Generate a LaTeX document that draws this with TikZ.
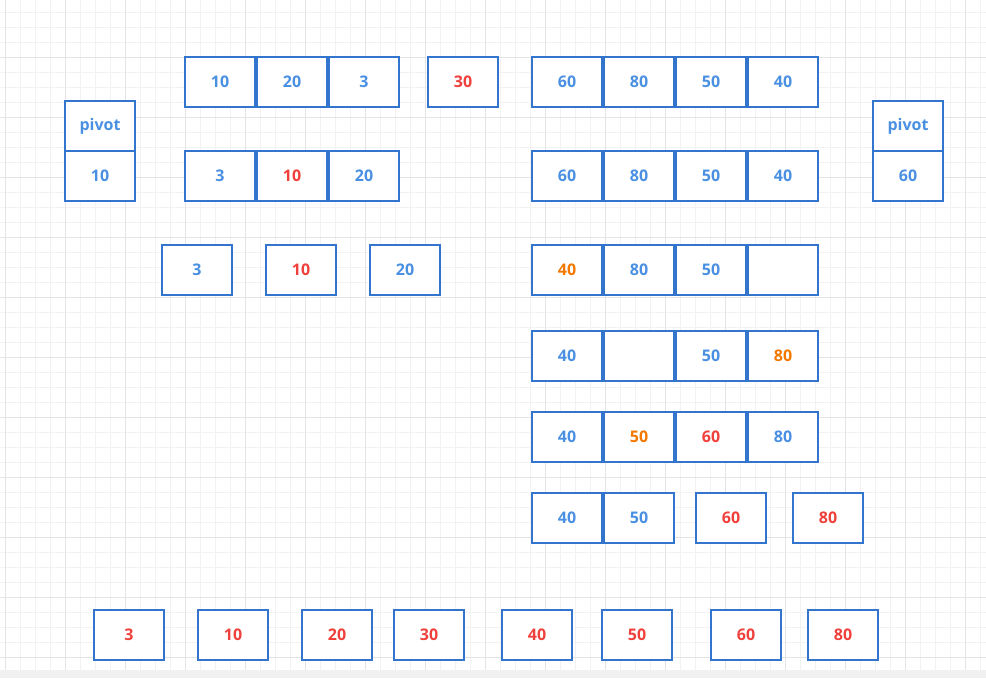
\documentclass[tikz,border=0pt]{standalone}
\usepackage{fontspec}
\setmainfont{Open Sans}
\usetikzlibrary{positioning}

\definecolor{boxblue}{RGB}{51,116,205}
\definecolor{numblue}{RGB}{74,144,226}
\definecolor{numred}{RGB}{240,64,60}
\definecolor{numorange}{RGB}{243,120,0}
\definecolor{gridlight}{RGB}{242,242,242}
\definecolor{griddark}{RGB}{228,228,228}
\definecolor{footgray}{RGB}{241,241,241}

\begin{document}
\begin{tikzpicture}[
        x=1pt, y=-1pt,
        node distance=0pt and 0pt,
        cell/.style={draw=boxblue, line width=2pt, fill=white,
                     minimum width=70pt, minimum height=50pt, inner sep=0pt,
                     font=\fontsize{16}{19}\selectfont\bfseries, text=numblue},
        hot/.style={cell, text=numred},
        moved/.style={cell, text=numorange},
        minorline/.style={draw=gridlight, line width=1pt},
        majorline/.style={draw=griddark, line width=1pt}
    ]
        \useasboundingbox (0,0) rectangle (986,678);
        \fill[footgray] (0,670) rectangle (986,678);

        % background grid
        \foreach \gx in {5.7,20.7,...,986} \draw[minorline] (\gx,0) -- (\gx,670);
        \foreach \gy in {12.3,27.3,...,670} \draw[minorline] (0,\gy) -- (986,\gy);
        \foreach \gx in {5.7,65.7,...,986} \draw[majorline] (\gx,0) -- (\gx,670);
        \foreach \gy in {57.3,117.3,...,670} \draw[majorline] (0,\gy) -- (986,\gy);

        % pivots
        \node[cell] (pivot-left) at (100,126) {pivot};
        \node[cell, below=-2pt of pivot-left] (pivot-left-val) {10};
        \node[cell] (pivot-right) at (908,126) {pivot};
        \node[cell, below=-2pt of pivot-right] (pivot-right-val) {60};

        % first split
        \node[cell] (row1-a) at (220,82) {10};
        \node[cell, right=of row1-a] (row1-b) {20};
        \node[cell, right=of row1-b] (row1-c) {3};
        \node[hot] (row1-mid) at (463,82) {30};
        \node[cell] (row1-d) at (567,82) {60};
        \node[cell, right=of row1-d] (row1-e) {80};
        \node[cell, right=of row1-e] (row1-f) {50};
        \node[cell, right=of row1-f] (row1-g) {40};

        % left part
        \node[cell] (row2-a) at (220,176) {3};
        \node[hot, right=of row2-a] (row2-b) {10};
        \node[cell, right=of row2-b] (row2-c) {20};
        \node[cell] (row3-a) at (197,270) {3};
        \node[hot, right=32pt of row3-a] (row3-b) {10};
        \node[cell, right=32pt of row3-b] (row3-c) {20};

        % right part
        \node[cell] (row2-d) at (567,176) {60};
        \node[cell, right=of row2-d] (row2-e) {80};
        \node[cell, right=of row2-e] (row2-f) {50};
        \node[cell, right=of row2-f] (row2-g) {40};

        \node[moved] (row3-d) at (567,270) {40};
        \node[cell, right=of row3-d] (row3-e) {80};
        \node[cell, right=of row3-e] (row3-f) {50};
        \node[cell, right=of row3-f] (row3-g) {};

        \node[cell] (row4-d) at (567,356) {40};
        \node[cell, right=of row4-d] (row4-e) {};
        \node[cell, right=of row4-e] (row4-f) {50};
        \node[moved, right=of row4-f] (row4-g) {80};

        \node[cell] (row5-d) at (567,437) {40};
        \node[moved, right=of row5-d] (row5-e) {50};
        \node[hot, right=of row5-e] (row5-f) {60};
        \node[cell, right=of row5-f] (row5-g) {80};

        \node[cell] (row6-d) at (567,518) {40};
        \node[cell, right=of row6-d] (row6-e) {50};
        \node[hot, right=20pt of row6-e] (row6-f) {60};
        \node[hot, right=25pt of row6-f] (row6-g) {80};

        % sorted result
        \foreach \px/\val in {129/3, 233/10, 337/20, 429/30, 537/40, 637/50, 746/60, 843/80}
            \node[hot] (sorted-\val) at (\px,635) {\val};
    \end{tikzpicture}
\end{document}
